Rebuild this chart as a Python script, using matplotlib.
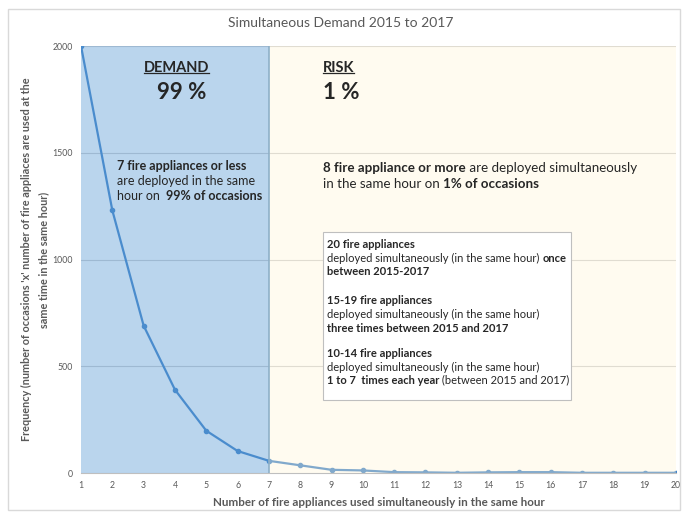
import matplotlib.pyplot as plt
from matplotlib.patches import Rectangle
from matplotlib.lines import Line2D

# data
appliances = list(range(1, 21))
frequency = [2000, 1230, 690, 390, 198, 103, 57, 36, 15, 12, 4, 3, 1, 3, 4, 4, 1, 1, 1, 1]
y_ticks = [0, 500, 1000, 1500, 2000]
demand_limit = 7

plt.rcParams['font.family'] = ['Lato', 'DejaVu Sans']
txt_col = '#262626'
gray = '#595959'


def rich_line(ax, x, y, parts, size):
    # consecutive pieces of text with their own weight on one line
    s, w = parts[0]
    t = ax.text(x, y, s, weight=w, fontsize=size, color=txt_col,
                transform=ax.transAxes, ha='left', va='center', zorder=6)
    for s, w in parts[1:]:
        t = ax.annotate(s, xy=(1, 0.5), xycoords=t, weight=w, fontsize=size,
                        color=txt_col, ha='left', va='center', zorder=6)
    return t


def ay(px):
    # pixel row of the reference -> axes fraction
    return (473 - px) / 427


fig = plt.figure(figsize=(6.82, 5.17), dpi=100)
fig.patches.append(Rectangle((0.011, 0.013), 0.986, 0.97, transform=fig.transFigure,
                             fill=False, edgecolor='#d9d9d9', lw=1))
ax = fig.add_axes([0.1188, 0.0851, 0.8724, 0.8259])

for yv in y_ticks[1:]:
    ax.axhline(yv, color='#d0d0d0', lw=0.8, zorder=1)

ax.plot(appliances, frequency, color='#3f82c8', lw=1.6, marker='o', ms=3, zorder=2)

# translucent overlays on top of the line, like the shapes in the original
ax.axvspan(appliances[0], demand_limit, color='#5b9bd5', alpha=0.42, lw=0, zorder=3)
ax.axvspan(demand_limit, appliances[-1], color='#fff4d5', alpha=0.35, lw=0, zorder=3)
ax.axvline(demand_limit, color='#8eb0c8', lw=1.2, zorder=3)

ax.set_xlim(appliances[0], appliances[-1])
ax.set_ylim(0, 2000)
ax.set_xticks(appliances)
ax.set_yticks(y_ticks)
ax.tick_params(length=0, labelsize=6.3, colors=gray, pad=6)
for sp in ['top', 'right', 'left']:
    ax.spines[sp].set_visible(False)
ax.spines['bottom'].set_color('#bfbfbf')

fig.text(0.5, 0.955, 'Simultaneous Demand 2015 to 2017', ha='center', va='center',
         fontsize=10, color=gray)
ax.set_xlabel('Number of fire appliances used simultaneously in the same hour',
              fontsize=8.4, weight='bold', color=gray, labelpad=5)
ax.set_ylabel("Frequency (number of occasions 'x' number of fire appliaces are used at the\n"
              "same time in the same hour)", fontsize=7.8, weight='bold', color=gray,
              labelpad=2, linespacing=1.7)

# headline labels
for xa, ha, head, xp, pct in [(0.16, 'center', 'DEMAND', 0.169, '99 %'),
                              (0.4067, 'left', 'RISK', 0.4067, '1 %')]:
    t = ax.text(xa, ay(68), head, transform=ax.transAxes, fontsize=10.5, weight='bold',
                color=txt_col, ha=ha, va='center', zorder=6)
    ax.text(xp, ay(92), pct, transform=ax.transAxes, ha=ha,
            fontsize=16, weight='bold', color=txt_col, va='center', zorder=6)
    fig.canvas.draw()
    bb = t.get_window_extent().transformed(ax.transAxes.inverted())
    ax.add_line(Line2D([bb.x0, bb.x1], [bb.y0 + 0.004, bb.y0 + 0.004],
                       transform=ax.transAxes, color=txt_col, lw=0.9, zorder=6))

# left explanation
x_left = (117 - 81) / 595
rich_line(ax, x_left, ay(166), [('7 fire appliances or less', 'bold')], 9)
rich_line(ax, x_left, ay(181), [('are deployed in the same', 'normal')], 9)
rich_line(ax, x_left, ay(196), [('hour on  ', 'normal'), ('99% of occasions', 'bold')], 9)

# right explanation
x_right = (323 - 81) / 595
rich_line(ax, x_right, ay(168), [('8 fire appliance or more', 'bold'),
                                 (' are deployed simultaneously', 'normal')], 9.6)
rich_line(ax, x_right, ay(184), [('in the same hour on ', 'normal'),
                                 ('1% of occasions', 'bold')], 9.6)

# info box
ax.add_patch(Rectangle(((323 - 81) / 595, ay(400)), (571 - 323) / 595,
                       ay(232) - ay(400), transform=ax.transAxes,
                       facecolor='white', edgecolor='#bfbfbf', lw=0.8, zorder=5))
box_lines = [
    (244, [('20 fire appliances', 'bold')]),
    (258, [('deployed simultaneously (in the same hour) ', 'normal'), ('once', 'bold')]),
    (271, [('between 2015-2017', 'bold')]),
    (300, [('15-19 fire appliances', 'bold')]),
    (314, [('deployed simultaneously (in the same hour)', 'normal')]),
    (328, [('three times between 2015 and 2017', 'bold')]),
    (353, [('10-14 fire appliances', 'bold')]),
    (367, [('deployed simultaneously (in the same hour)', 'normal')]),
    (380, [('1 to 7  times each year', 'bold'), (' (between 2015 and 2017)', 'normal')]),
]
x_box = (327 - 81) / 595
for row, parts in box_lines:
    rich_line(ax, x_box, ay(row), parts, 8)

fig.savefig('out.png', dpi=100)
